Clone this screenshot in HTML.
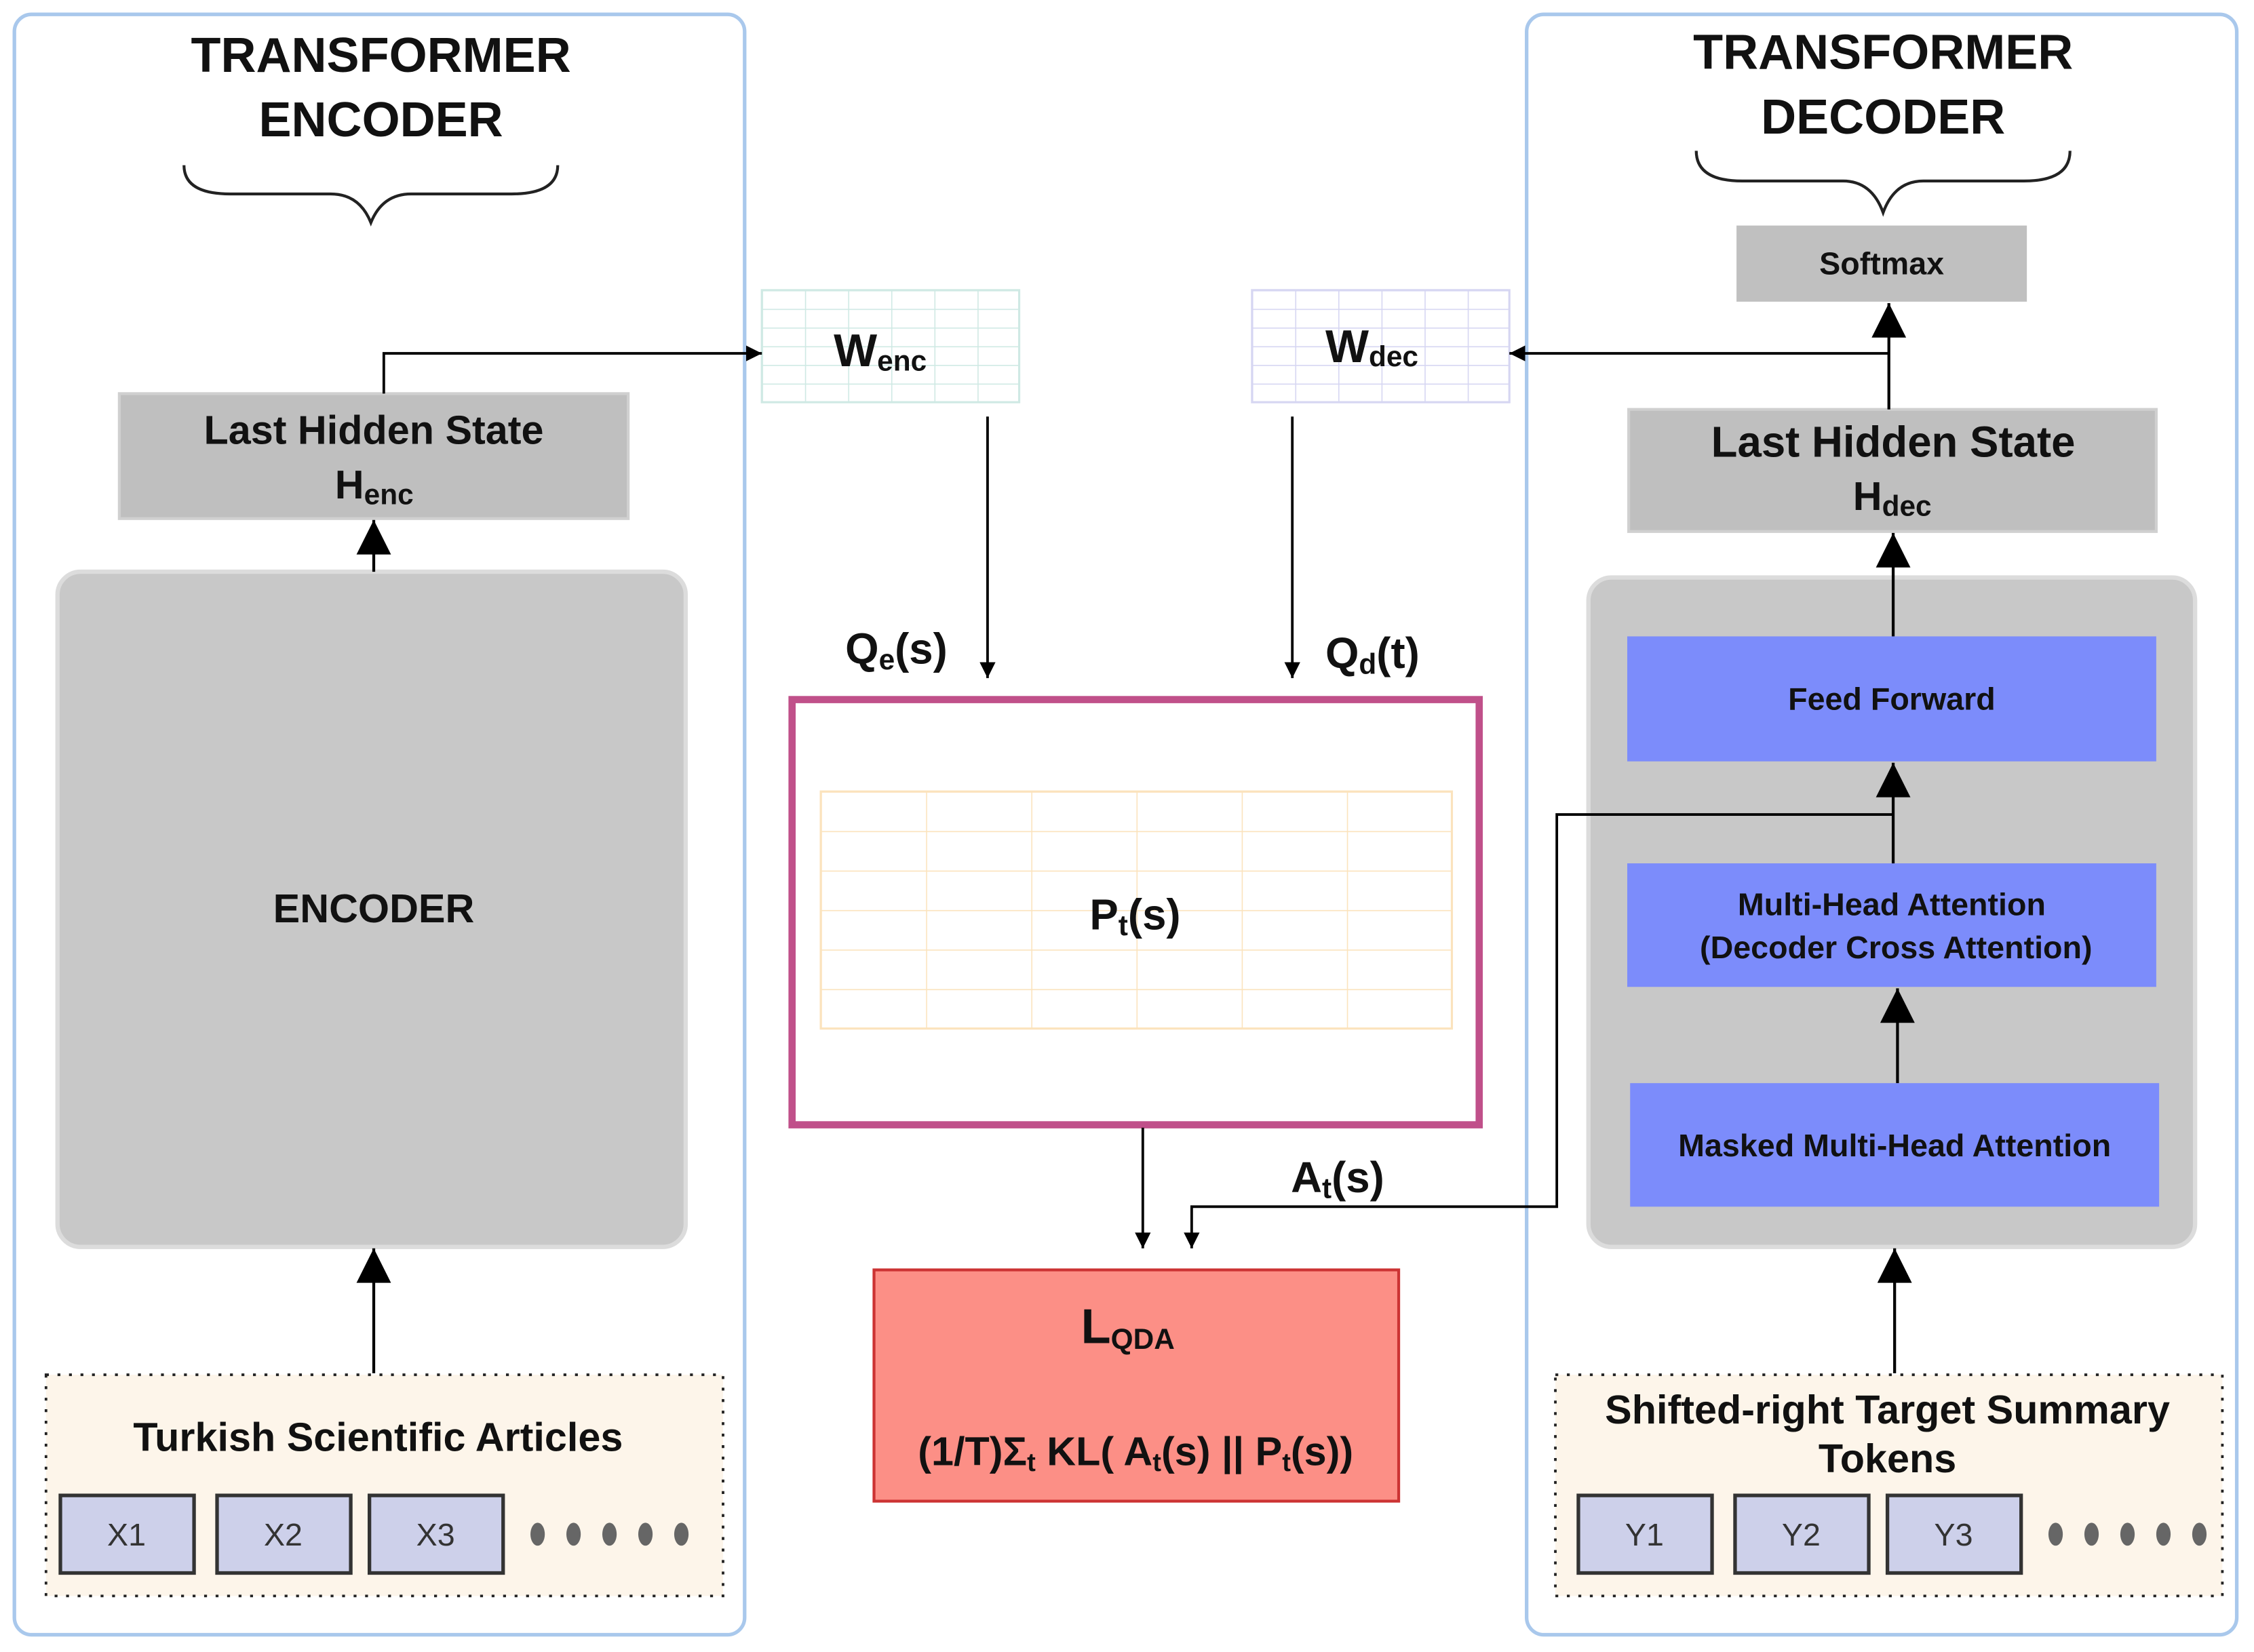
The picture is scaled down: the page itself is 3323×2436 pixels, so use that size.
<!DOCTYPE html>
<html><head><meta charset="utf-8"><style>html,body{margin:0;padding:0;background:#fff}svg{display:block}text{font-family:"Liberation Sans",Arial,sans-serif;font-weight:bold;fill:#111}</style></head><body>
<svg width="3323" height="2436" viewBox="0 0 1568 1150" preserveAspectRatio="none" xmlns="http://www.w3.org/2000/svg">
<defs>
<marker id="big" viewBox="0 0 10 10" refX="10" refY="5" markerWidth="26" markerHeight="24" markerUnits="userSpaceOnUse" orient="auto"><path d="M0,0 L10,5 L0,10 Z" fill="#000"/></marker>
<marker id="sm" viewBox="0 0 10 10" refX="10" refY="5" markerWidth="11" markerHeight="11" markerUnits="userSpaceOnUse" orient="auto"><path d="M0,0 L10,5 L0,10 Z" fill="#000"/></marker>
<pattern id="gE" x="530" y="202" width="30" height="13" patternUnits="userSpaceOnUse"><path d="M0,0 H30 M0,0 V13" stroke="#cfe9e4" stroke-width="1.5" fill="none"/></pattern>
<pattern id="gD" x="871" y="202" width="30" height="13" patternUnits="userSpaceOnUse"><path d="M0,0 H30 M0,0 V13" stroke="#d6d6f2" stroke-width="1.5" fill="none"/></pattern>
<pattern id="gP" x="571" y="551" width="73.2" height="27.5" patternUnits="userSpaceOnUse"><path d="M0,0 H73.2 M0,0 V27.5" stroke="#fbe3bd" stroke-width="1.5" fill="none"/></pattern>
</defs>

<rect x="10" y="10" width="508" height="1128" rx="12" fill="#fff" stroke="#a9c8ec" stroke-width="2.5"/>
<rect x="1062" y="10" width="494" height="1128" rx="12" fill="#fff" stroke="#a9c8ec" stroke-width="2.5"/>

<text x="265" y="50" font-size="34" text-anchor="middle">TRANSFORMER</text>
<text x="265" y="95" font-size="34" text-anchor="middle">ENCODER</text>
<path d="M128,115 Q128,135 160,135 L230,135 Q250,135 258,155 Q266,135 286,135 L356,135 Q388,135 388,115" fill="none" stroke="#222" stroke-width="2"/>
<text x="1310" y="48" font-size="34" text-anchor="middle">TRANSFORMER</text>
<text x="1310" y="93" font-size="34" text-anchor="middle">DECODER</text>
<path d="M1180,105 Q1180,126 1212,126 L1282,126 Q1302,126 1310,148 Q1318,126 1338,126 L1408,126 Q1440,126 1440,105" fill="none" stroke="#222" stroke-width="2"/>

<rect x="83" y="274" width="354" height="87" fill="#bfbfbf" stroke="#d0d0d0" stroke-width="2"/>
<text x="260" y="309" font-size="28" text-anchor="middle">Last Hidden State</text>
<text x="233" y="347" font-size="28">H<tspan font-size="20" dy="4">enc</tspan></text>
<rect x="40" y="398" width="437" height="470" rx="16" fill="#c8c8c8" stroke="#dcdcdc" stroke-width="3"/>
<text x="260" y="642" font-size="28" text-anchor="middle">ENCODER</text>
<line x1="260" y1="398" x2="260" y2="362" stroke="#000" stroke-width="2" marker-end="url(#big)"/>
<line x1="260" y1="956" x2="260" y2="869" stroke="#000" stroke-width="2" marker-end="url(#big)"/>
<rect x="32" y="957" width="471" height="154" fill="#fdf5ea" stroke="#222" stroke-width="1.8" stroke-dasharray="2,6"/>
<text x="263" y="1010" font-size="28" text-anchor="middle">Turkish Scientific Articles</text>
<rect x="1082" y="957" width="464" height="154" fill="#fdf5ea" stroke="#222" stroke-width="1.8" stroke-dasharray="2,6"/>
<text x="1313" y="991" font-size="28" text-anchor="middle">Shifted-right Target Summary</text>
<text x="1313" y="1025" font-size="28" text-anchor="middle">Tokens</text>
<g stroke="#333" stroke-width="2.5" fill="#cdd0ea">
<rect x="42" y="1041" width="93" height="54"/><rect x="151" y="1041" width="93" height="54"/><rect x="257" y="1041" width="93" height="54"/>
<rect x="1098" y="1041" width="93" height="54"/><rect x="1207" y="1041" width="93" height="54"/><rect x="1313" y="1041" width="93" height="54"/>
</g>
<g font-size="22" text-anchor="middle">
<text x="88" y="1076" style="font-weight:normal;fill:#333">X1</text><text x="197" y="1076" style="font-weight:normal;fill:#333">X2</text><text x="303" y="1076" style="font-weight:normal;fill:#333">X3</text>
<text x="1144" y="1076" style="font-weight:normal;fill:#333">Y1</text><text x="1253" y="1076" style="font-weight:normal;fill:#333">Y2</text><text x="1359" y="1076" style="font-weight:normal;fill:#333">Y3</text>
</g>
<g fill="#666">
<ellipse cx="374" cy="1068" rx="5" ry="8"/><ellipse cx="399" cy="1068" rx="5" ry="8"/><ellipse cx="424" cy="1068" rx="5" ry="8"/><ellipse cx="449" cy="1068" rx="5" ry="8"/><ellipse cx="474" cy="1068" rx="5" ry="8"/>
<ellipse cx="1430" cy="1068" rx="5" ry="8"/><ellipse cx="1455" cy="1068" rx="5" ry="8"/><ellipse cx="1480" cy="1068" rx="5" ry="8"/><ellipse cx="1505" cy="1068" rx="5" ry="8"/><ellipse cx="1530" cy="1068" rx="5" ry="8"/>
</g>

<rect x="530" y="202" width="179" height="78" fill="url(#gE)" stroke="#cfe9e4" stroke-width="1.5"/>
<text x="580" y="255" font-size="32">W<tspan font-size="20" dy="3">enc</tspan></text>
<rect x="871" y="202" width="179" height="78" fill="url(#gD)" stroke="#d6d6f2" stroke-width="1.5"/>
<text x="922" y="252" font-size="32">W<tspan font-size="20" dy="3">dec</tspan></text>
<polyline points="267,274 267,246 530,246" fill="none" stroke="#000" stroke-width="1.8" marker-end="url(#sm)"/>
<line x1="1314" y1="246" x2="1050" y2="246" stroke="#000" stroke-width="1.8" marker-end="url(#sm)"/>
<line x1="687" y1="290" x2="687" y2="472" stroke="#000" stroke-width="1.8" marker-end="url(#sm)"/>
<line x1="899" y1="290" x2="899" y2="472" stroke="#000" stroke-width="1.8" marker-end="url(#sm)"/>
<text x="588" y="462" font-size="30">Q<tspan font-size="20" dy="4">e</tspan><tspan dy="-4">(s)</tspan></text>
<text x="922" y="465" font-size="30">Q<tspan font-size="20" dy="4">d</tspan><tspan dy="-4">(t)</tspan></text>

<rect x="551" y="487" width="478" height="296" fill="#fff" stroke="#c0508a" stroke-width="5"/>
<rect x="571" y="551" width="439" height="165" fill="url(#gP)" stroke="#fbe3bd" stroke-width="1.5"/>
<text x="758" y="647" font-size="30">P<tspan font-size="20" dy="4">t</tspan><tspan dy="-4">(s)</tspan></text>
<line x1="795" y1="785" x2="795" y2="869" stroke="#000" stroke-width="1.8" marker-end="url(#sm)"/>
<text x="898" y="830" font-size="30">A<tspan font-size="20" dy="4">t</tspan><tspan dy="-4">(s)</tspan></text>

<rect x="608" y="884" width="365" height="161" fill="#fc8f86" stroke="#c33" stroke-width="2"/>
<text x="752" y="935" font-size="34">L<tspan font-size="20" dy="4">QDA</tspan></text>
<text x="790" y="1020" font-size="28" text-anchor="middle">(1/T)Σ<tspan font-size="18" dy="4">t</tspan><tspan dy="-4"> KL( A</tspan><tspan font-size="18" dy="4">t</tspan><tspan dy="-4">(s) || P</tspan><tspan font-size="18" dy="4">t</tspan><tspan dy="-4">(s))</tspan></text>

<rect x="1208" y="157" width="202" height="53" fill="#c0c0c0"/>
<text x="1309" y="191" font-size="22" text-anchor="middle">Softmax</text>
<rect x="1133" y="285" width="367" height="85" fill="#bfbfbf" stroke="#d0d0d0" stroke-width="2"/>
<text x="1317" y="318" font-size="30" text-anchor="middle">Last Hidden State</text>
<text x="1289" y="355" font-size="28">H<tspan font-size="20" dy="4">dec</tspan></text>
<line x1="1314" y1="285" x2="1314" y2="211" stroke="#000" stroke-width="2" marker-end="url(#big)"/>
<rect x="1105" y="402" width="422" height="466" rx="16" fill="#c8c8c8" stroke="#dcdcdc" stroke-width="3"/>
<rect x="1132" y="443" width="368" height="87" fill="#7c8cfb"/>
<text x="1316" y="494" font-size="22" text-anchor="middle">Feed Forward</text>
<rect x="1132" y="601" width="368" height="86" fill="#7c8cfb"/>
<text x="1316" y="637" font-size="22" text-anchor="middle">Multi-Head Attention</text>
<text x="1319" y="667" font-size="22" text-anchor="middle">(Decoder Cross Attention)</text>
<rect x="1134" y="754" width="368" height="86" fill="#7c8cfb"/>
<text x="1318" y="805" font-size="22" text-anchor="middle">Masked Multi-Head Attention</text>
<line x1="1317" y1="443" x2="1317" y2="371" stroke="#000" stroke-width="2" marker-end="url(#big)"/>
<line x1="1317" y1="601" x2="1317" y2="531" stroke="#000" stroke-width="2" marker-end="url(#big)"/>
<line x1="1320" y1="754" x2="1320" y2="688" stroke="#000" stroke-width="2" marker-end="url(#big)"/>
<line x1="1318" y1="956" x2="1318" y2="869" stroke="#000" stroke-width="2" marker-end="url(#big)"/>
<polyline points="1317,567 1083,567 1083,840 829,840 829,869" fill="none" stroke="#000" stroke-width="1.8" marker-end="url(#sm)"/>
</svg>
</body></html>
